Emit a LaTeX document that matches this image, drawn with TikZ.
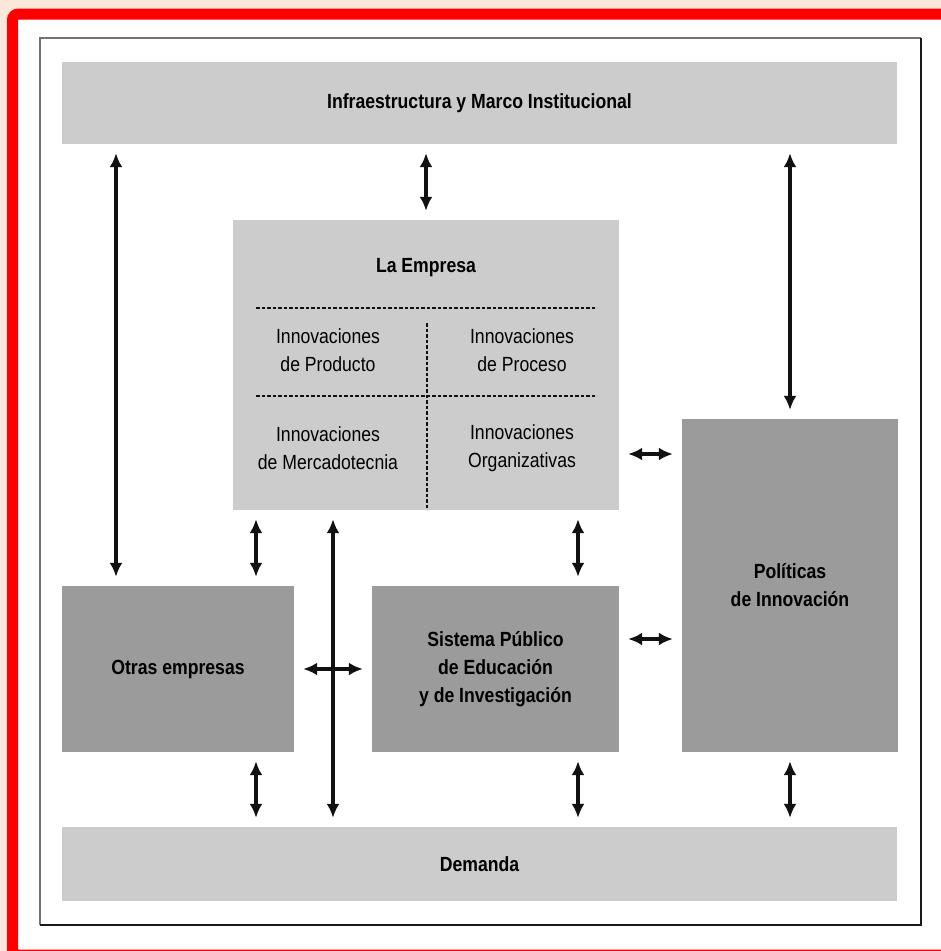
\documentclass[tikz,border=0pt]{standalone}
\usepackage{fontspec}
\setmainfont{Liberation Sans}[FakeStretch=0.86]
\usetikzlibrary{arrows.meta, calc}
\definecolor{dgbg}{HTML}{FCE8DA}
\definecolor{dgred}{HTML}{FF0000}
\definecolor{dglight}{HTML}{CCCCCC}
\definecolor{dgdark}{HTML}{9B9B9B}
\definecolor{dgline}{HTML}{111111}

\begin{document}
\begin{tikzpicture}[x=1pt, y=-1pt,
    bar/.style={fill=dglight, inner sep=0pt, minimum width=835pt,
                font=\fontsize{20.5}{28}\selectfont\bfseries},
    lightbox/.style={fill=dglight, inner sep=0pt},
    darkbox/.style={fill=dgdark, inner sep=0pt, align=center,
                    font=\fontsize{20.5}{28}\selectfont\bfseries},
    txt/.style={align=center, inner sep=0pt, font=\fontsize{20.5}{28}\selectfont},
    divider/.style={draw=dgline, line width=1.3pt, dash pattern=on 3.5pt off 2pt},
    edg/.style={draw=dgline, line width=3.3pt, shorten <=9pt, shorten >=9pt,
                {Latex[length=14pt,width=13pt]}-{Latex[length=14pt,width=13pt]}}]
    \useasboundingbox (0,0) rectangle (941,951);
    \clip (0,0) rectangle (941,951);
    % page frame
    \fill[dgbg] (0,0) rectangle (941,951);
    \draw[dgred, fill=white, line width=11pt, rounded corners=6pt] (12.5,14) rectangle (975,955);
    \draw[black!55, line width=1.2pt] (921,38) -- (40,38) -- (40,925);
    \draw[black!90, line width=2pt] (921,38) -- (921,925) -- (40,925);
    % boxes
    \node[bar, minimum height=82pt] (infra) at (479.5,103) {Infraestructura y Marco Institucional};
    \node[bar, minimum height=74pt] (demanda) at (479.5,864) {Demanda};
    \node[lightbox, minimum width=386pt, minimum height=290pt] (empresa) at (426,365) {};
    \node[darkbox, minimum width=232pt, minimum height=166pt] (otras) at (178,669) {Otras empresas};
    \node[darkbox, minimum width=247pt, minimum height=166pt] (sistema) at (495.5,669)
        {Sistema Público\\de Educación\\y de Investigación};
    \node[darkbox, minimum width=216pt, minimum height=333pt] (politicas) at (790,585.5)
        {Políticas\\de Innovación};
    % inside la empresa
    \node[txt, font=\fontsize{20.5}{28}\selectfont\bfseries] (titulo) at (426,268) {La Empresa};
    \draw[divider] (256,308) -- (597,308);
    \draw[divider] (256,396) -- (597,396);
    \draw[divider] (427,323) -- (427,510);
    \node[txt] (prod) at (328,350) {Innovaciones\\de Producto};
    \node[txt] (proc) at (522,350) {Innovaciones\\de Proceso};
    \node[txt] (merc) at (328,448) {Innovaciones\\de Mercadotecnia};
    \node[txt] (org) at (522,448) {Innovaciones\\Organizativas};
    % arrows
    \coordinate (xa) at (116,0);
    \coordinate (xb) at (256,0);
    \coordinate (xc) at (333,0);
    \coordinate (xd) at (578,0);
    \coordinate (ya) at (0,454);
    \coordinate (yb) at (0,639);
    \draw[edg] (infra.south -| xa) -- (otras.north -| xa);
    \draw[edg] (infra.south -| empresa.north) -- (empresa.north);
    \draw[edg] (infra.south -| politicas.north) -- (politicas.north);
    \draw[edg] (empresa.south -| xb) -- (otras.north -| xb);
    \draw[edg] (empresa.south -| xc) -- (demanda.north -| xc);
    \draw[edg] (empresa.south -| xd) -- (sistema.north -| xd);
    \draw[edg] (empresa.east |- ya) -- (politicas.west |- ya);
    \draw[edg] (sistema.east |- yb) -- (politicas.west |- yb);
    \draw[edg] (otras.east) -- (sistema.west);
    \draw[edg] (otras.south -| xb) -- (demanda.north -| xb);
    \draw[edg] (sistema.south -| xd) -- (demanda.north -| xd);
    \draw[edg] (politicas.south) -- (demanda.north -| politicas.south);
\end{tikzpicture}
\end{document}
